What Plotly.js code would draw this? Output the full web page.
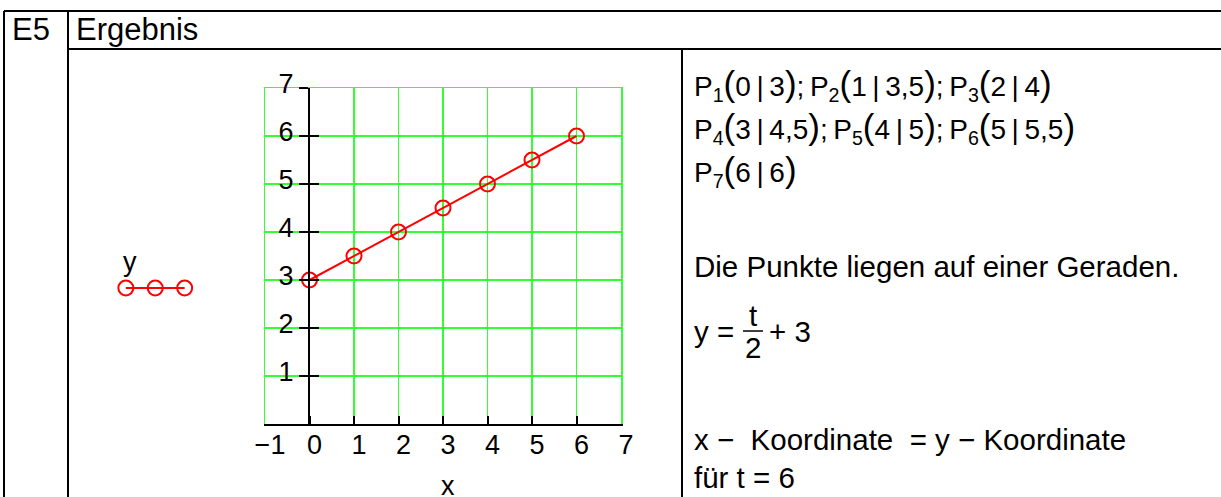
<!DOCTYPE html>
<html>
<head>
<meta charset="utf-8">
<script src="https://cdn.plot.ly/plotly-3.0.1.min.js"></script>
<style>
  html, body { margin: 0; padding: 0; background: #fff; }
  #chart { width: 1221px; height: 497px; }
</style>
</head>
<body>
<div id="chart"></div>
<script>
// Points P1..P7 of the table: x = t, y = t/2 + 3
const tValues = [0, 1, 2, 3, 4, 5, 6];
const yValues = [3, 3.5, 4, 4.5, 5, 5.5, 6];

// Axis ticks
const xTicks = [-1, 0, 1, 2, 3, 4, 5, 6, 7];
const xTickText = ['\u22121', '0', '1', '2', '3', '4', '5', '6', '7'];
const yTicks = [1, 2, 3, 4, 5, 6, 7];

// Legend swatch: three sample circles
const swatchX = [0, 1, 2];
const swatchY = [0, 0, 0];

// Text of the result panel
const headerLabel = 'E5';
const headerTitle = 'Ergebnis';
const seriesName = 'y';
const axisTitleX = 'x';

const W = 1221, H = 497;
const px = v => v / W;
const py = v => 1 - v / H;

const FONT = 'Liberation Sans, Arial, Helvetica, sans-serif';
const HEAD = 31;
const BODY = 29.5;
const FORMULA = 28;
const TICK = 27;
const RED = '#ff0000';
const GRID = '#33ff33';

const TS = '\u2009';   // thin space
const par = s => '<span style="font-size:35px">' + s + '</span>';
const P = (i, a, b) => 'P<sub>' + i + '</sub>' + par('(') + a + TS + '|' + TS + b + par(')');
const SEP = ';' + TS;

const pointLines = [
  P(1, '0', '3') + SEP + P(2, '1', '3,5') + SEP + P(3, '2', '4'),
  P(4, '3', '4,5') + SEP + P(5, '4', '5') + SEP + P(6, '5', '5,5'),
  P(7, '6', '6')
];

const txt = (text, x, y, opts = {}) => Object.assign({
  text: text, xref: 'paper', yref: 'paper', x: px(x), y: py(y),
  xanchor: 'left', yanchor: 'middle', showarrow: false,
  font: {family: FONT, size: BODY, color: '#000'}
}, opts);

const formulaFont = {family: FONT, size: FORMULA, color: '#000'};

const annotations = [
  txt(headerLabel, 10, 30, {font: {family: FONT, size: HEAD, color: '#000'}}),
  txt(headerTitle, 74, 30, {font: {family: FONT, size: HEAD, color: '#000'}}),
  txt(pointLines[0], 692, 85, {font: formulaFont}),
  txt(pointLines[1], 692, 128, {font: formulaFont}),
  txt(pointLines[2], 692, 171, {font: formulaFont}),
  txt('Die Punkte liegen auf einer Geraden.', 692, 266),
  txt('y = ', 692, 331),
  txt('t', 753, 315, {xanchor: 'center'}),
  txt('2', 753, 347, {xanchor: 'center'}),
  txt('+ 3', 767, 331),
  txt('x \u2212  Koordinate  = y \u2212 Koordinate', 692, 439),
  txt('f\u00fcr t = 6', 692, 477),
  txt(seriesName, 130, 262, {xanchor: 'center', font: {family: FONT, size: TICK, color: '#000'}}),
  txt(axisTitleX, 448, 486, {xanchor: 'center', font: {family: FONT, size: TICK, color: '#000'}})
];

const line = (x0, y0, x1, y1, w = 2) => ({
  type: 'line', xref: 'paper', yref: 'paper',
  x0: px(x0), y0: py(y0), x1: px(x1), y1: py(y1),
  line: {color: '#000', width: w}
});

const shapes = [
  line(4, 11, W, 11),
  line(68, 49, W, 49),
  line(4, 11, 4, H),
  line(68, 11, 68, H),
  line(682, 49, 682, H),
  line(743, 331, 763, 331, 1.5)   // fraction bar of t/2
];

const markerStyle = {symbol: 'circle-open', size: 15, color: RED, line: {color: RED, width: 2}};

const traces = [
  {
    x: tValues, y: yValues, xaxis: 'x', yaxis: 'y',
    mode: 'lines+markers', name: seriesName, showlegend: false,
    line: {color: RED, width: 2}, marker: markerStyle, hoverinfo: 'x+y'
  },
  {
    x: swatchX, y: swatchY, xaxis: 'x3', yaxis: 'y3',
    mode: 'lines+markers', showlegend: false, hoverinfo: 'skip',
    line: {color: RED, width: 2}, marker: markerStyle
  },
  // empty traces that bring up the helper axes (crossing ticks, grid frame)
  {x: [], y: [], xaxis: 'x', yaxis: 'y2', showlegend: false, hoverinfo: 'skip'},
  {x: [], y: [], xaxis: 'x2', yaxis: 'y4', showlegend: false, hoverinfo: 'skip'}
];

const xDomain = [px(265), px(621)];
const yDomain = [py(424), py(88)];

const layout = {
  width: W, height: H,
  margin: {l: 0, r: 0, t: 0, b: 0, pad: 0},
  paper_bgcolor: '#fff', plot_bgcolor: '#fff',
  showlegend: false,
  font: {family: FONT, color: '#000'},
  xaxis: {
    domain: xDomain, range: [-1, 7], anchor: 'y', fixedrange: true,
    tickmode: 'array', tickvals: xTicks, ticktext: xTickText,
    ticks: 'inside', ticklen: 8, tickwidth: 2, tickcolor: '#000',
    showline: true, linecolor: '#000', linewidth: 2,
    showgrid: true, gridcolor: GRID, gridwidth: 1.5,
    zeroline: false, layer: 'above traces',
    tickfont: {family: FONT, size: TICK, color: '#000'},
    ticklabelshift: 5, ticklabelstandoff: -4
  },
  yaxis: {
    domain: yDomain, range: [0, 7], anchor: 'free', position: px(309), fixedrange: true,
    tickmode: 'array', tickvals: yTicks,
    ticks: 'outside', ticklen: 9, tickwidth: 2, tickcolor: '#000',
    showline: true, linecolor: '#000', linewidth: 2,
    showgrid: true, gridcolor: GRID, gridwidth: 1.5,
    zeroline: false,
    tickfont: {family: FONT, size: TICK, color: '#000'},
    ticklabelshift: -4, ticklabelstandoff: 0
  },
  yaxis2: {
    domain: yDomain, range: [0, 7], anchor: 'free', position: px(309),
    overlaying: 'y', fixedrange: true,
    tickmode: 'array', tickvals: yTicks,
    ticks: 'inside', ticklen: 9, tickwidth: 2, tickcolor: '#000',
    showticklabels: false, showgrid: false, showline: false, zeroline: false
  },
  // green frame of the grid at x = -1, x = 7 and y = 7
  xaxis2: {
    range: [-1, 7], overlaying: 'x', anchor: 'y', side: 'top', fixedrange: true,
    showline: true, linecolor: GRID, linewidth: 1.5,
    ticks: '', showticklabels: false, showgrid: false, zeroline: false
  },
  yaxis4: {
    range: [0, 7], overlaying: 'y', anchor: 'x', side: 'left', fixedrange: true,
    showline: true, mirror: true, linecolor: GRID, linewidth: 1.5,
    ticks: '', showticklabels: false, showgrid: false, zeroline: false
  },
  xaxis3: {
    domain: [px(117), px(193.5)], range: [-0.3, 2.3], anchor: 'y3',
    visible: false, fixedrange: true
  },
  yaxis3: {
    domain: [py(298), py(278)], range: [-1, 1], anchor: 'x3',
    visible: false, fixedrange: true
  },
  annotations: annotations,
  shapes: shapes
};

Plotly.newPlot('chart', traces, layout, {displayModeBar: false, staticPlot: true});
</script>
</body>
</html>
